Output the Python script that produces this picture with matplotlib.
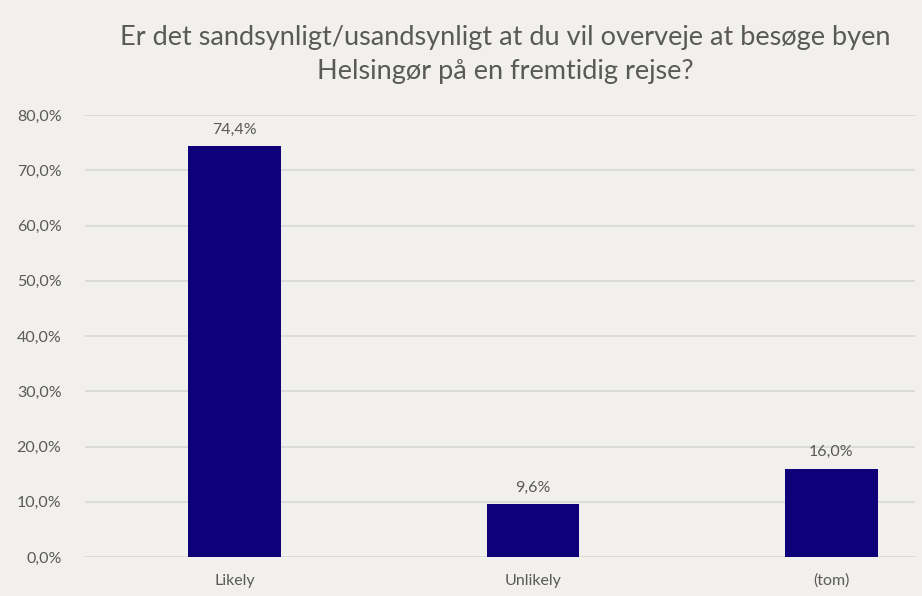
import matplotlib.pyplot as plt
import numpy as np

categories = ['Likely', 'Unlikely', '(tom)']
values = [74.4, 9.6, 16.0]
yticks = [0, 10, 20, 30, 40, 50, 60, 70, 80]

bg = '#f2f0ed'
bar_color = '#0e0078'
text_color = '#595959'

plt.rcParams['font.family'] = ['Lato', 'DejaVu Sans']

fig = plt.figure(figsize=(9.22, 5.96), dpi=100, facecolor=bg)
ax = fig.add_axes([0.0922, 0.0654, 0.9002, 0.7416], facecolor=bg)

x = np.arange(len(categories))
ax.bar(x, values, width=0.31, color=bar_color, zorder=3)

for xi, v in zip(x, values):
    ax.text(xi, v + 1.7, f'{v:.1f}%'.replace('.', ','), ha='center', va='bottom',
            fontsize=11.5, color=text_color)

ax.set_xlim(-0.501, 2.28)
ax.set_ylim(0, 80)
ax.set_yticks(yticks)
ax.set_yticklabels([f'{t:.1f}%'.replace('.', ',') for t in yticks])
ax.set_xticks(x)
ax.set_xticklabels(categories)
ax.tick_params(axis='both', length=0, labelsize=11.5, labelcolor=text_color)
ax.tick_params(axis='y', pad=17)
ax.tick_params(axis='x', pad=12)
ax.grid(axis='y', color='#d9d9d9', linewidth=1.3, zorder=0)
for s in ax.spines.values():
    s.set_visible(False)

fig.text(0.548, 0.908, 'Er det sandsynligt/usandsynligt at du vil overveje at besøge byen\nHelsingør på en fremtidig rejse?',
         ha='center', va='center', fontsize=19.5, color=text_color, linespacing=1.45)

plt.savefig('out.png', dpi=100, facecolor=bg)
